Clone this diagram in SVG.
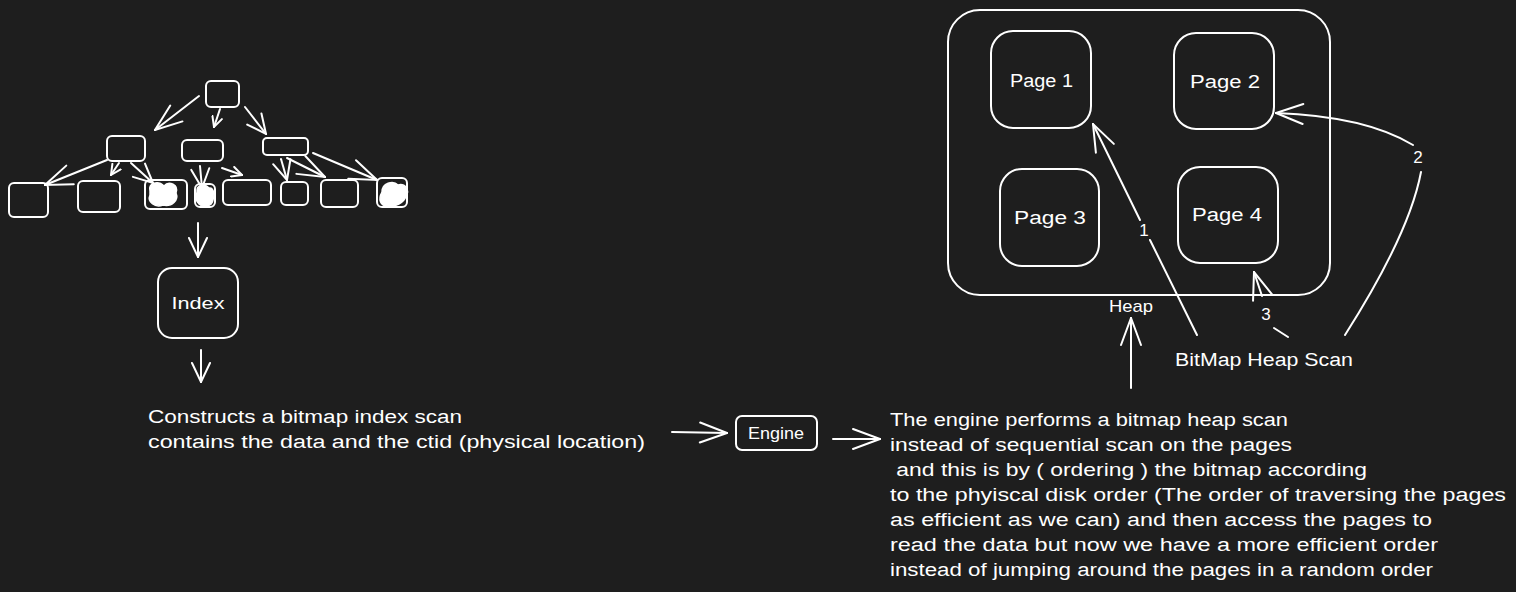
<svg xmlns="http://www.w3.org/2000/svg" width="1516" height="592" viewBox="0 0 1516 592">
<defs>
<style>
.bg{fill:#1e1e1e}
.box{fill:none;stroke:#ffffff;stroke-width:2;stroke-linejoin:round}
.ln{fill:none;stroke:#ffffff;stroke-width:2;stroke-linecap:round;stroke-linejoin:round}
.blob{fill:#ffffff;stroke:#ffffff;stroke-width:1.5}
.t{font-family:"Liberation Sans","Open Sans",sans-serif;fill:#ffffff;font-size:18px;white-space:pre}
.tm{font-family:"Liberation Sans","Open Sans",sans-serif;fill:#ffffff;font-size:17px;text-anchor:middle}
</style>
<marker id="aS" viewBox="0 0 12 12" refX="11" refY="6" markerWidth="12" markerHeight="12" markerUnits="userSpaceOnUse" orient="auto">
<path d="M1,1 L11,6 L1,11" fill="none" stroke="#ffffff" stroke-width="2" stroke-linecap="round"/>
</marker>
<marker id="aM" viewBox="0 0 22 22" refX="21" refY="11" markerWidth="22" markerHeight="22" markerUnits="userSpaceOnUse" orient="auto">
<path d="M2,2 L21,11 L2,20" fill="none" stroke="#ffffff" stroke-width="2" stroke-linecap="round"/>
</marker>
<marker id="aL" viewBox="0 0 30 24" refX="29" refY="12" markerWidth="30" markerHeight="24" markerUnits="userSpaceOnUse" orient="auto">
<path d="M2,2 L29,12 L2,22" fill="none" stroke="#ffffff" stroke-width="2" stroke-linecap="round"/>
</marker>
</defs>
<rect class="bg" x="0" y="0" width="1516" height="592"/>

<g id="tree">
<rect class="box" x="206" y="81" width="33" height="26" rx="5"/>
<rect class="box" x="107" y="136" width="38" height="25" rx="5"/>
<rect class="box" x="182" y="140" width="41" height="21" rx="5"/>
<rect class="box" x="263" y="138" width="45" height="17" rx="4"/>
<rect class="box" x="9" y="183" width="39" height="34" rx="5"/>
<rect class="box" x="78" y="181" width="42" height="31" rx="5"/>
<rect class="box" x="145" y="180" width="42" height="29" rx="5"/>
<path class="blob" d="M150,191 C148,183 158,180 164,186 C169,180 179,185 176,193 C179,200 172,207 163,205 C155,208 147,202 150,195 Z"/>
<rect class="box" x="195" y="184" width="20" height="23" rx="5"/>
<path class="blob" d="M197,192 C196,185 205,183 209,188 C214,187 215,196 213,200 C212,207 203,208 199,204 C195,201 196,196 197,192 Z"/>
<rect class="box" x="223" y="180" width="48" height="25" rx="5"/>
<rect class="box" x="281" y="182" width="27" height="23" rx="5"/>
<rect class="box" x="321" y="180" width="37" height="27" rx="5"/>
<rect class="box" x="377" y="178" width="30" height="29" rx="5"/>
<path class="blob" d="M382,192 C382,183 393,180 398,185 C405,183 410,190 406,196 C404,203 395,207 388,206 C380,206 378,199 382,192 Z"/>
</g>

<g id="index">
<rect class="box" x="158" y="268" width="80" height="70" rx="14"/>
<text class="tm" x="198" y="309" textLength="53" lengthAdjust="spacingAndGlyphs">Index</text>
</g>

<g id="engine">
<rect class="box" x="736" y="416" width="81" height="34" rx="6"/>
<text class="tm" x="776" y="439" textLength="56" lengthAdjust="spacingAndGlyphs">Engine</text>
</g>

<g id="heap">
<rect class="box" x="948" y="10" width="382" height="285" rx="32"/>
<text class="tm" x="1131" y="312" textLength="44" lengthAdjust="spacingAndGlyphs">Heap</text>
</g>
<g id="page1">
<rect class="box" x="991" y="31" width="100" height="97" rx="22"/>
<text class="t" x="1010" y="87" textLength="63" lengthAdjust="spacingAndGlyphs">Page 1</text>
</g>
<g id="page2">
<rect class="box" x="1174" y="33" width="100" height="96" rx="22"/>
<text class="t" x="1190" y="88" textLength="70" lengthAdjust="spacingAndGlyphs">Page 2</text>
</g>
<g id="page3">
<rect class="box" x="1000" y="169" width="99" height="97" rx="22"/>
<text class="t" x="1014" y="224" textLength="72" lengthAdjust="spacingAndGlyphs">Page 3</text>
</g>
<g id="page4">
<rect class="box" x="1178" y="167" width="100" height="96" rx="22"/>
<text class="t" x="1192" y="221" textLength="70" lengthAdjust="spacingAndGlyphs">Page 4</text>
</g>

<g id="texts">
<text class="t" x="148" y="423" textLength="314" lengthAdjust="spacingAndGlyphs">Constructs a bitmap index scan</text>
<text class="t" x="148" y="448" textLength="497" lengthAdjust="spacingAndGlyphs">contains the data and the ctid (physical location)</text>
<text class="t" x="890" y="426" textLength="398" lengthAdjust="spacingAndGlyphs">The engine performs a bitmap heap scan</text>
<text class="t" x="890" y="451" textLength="402" lengthAdjust="spacingAndGlyphs">instead of sequential scan on the pages</text>
<text class="t" x="890" y="476" textLength="477" lengthAdjust="spacingAndGlyphs"> and this is by ( ordering ) the bitmap according</text>
<text class="t" x="890" y="501" textLength="616" lengthAdjust="spacingAndGlyphs">to the phyiscal disk order (The order of traversing the pages</text>
<text class="t" x="890" y="526" textLength="542" lengthAdjust="spacingAndGlyphs">as efficient as we can) and then access the pages to</text>
<text class="t" x="890" y="551" textLength="548" lengthAdjust="spacingAndGlyphs">read the data but now we have a more efficient order</text>
<text class="t" x="890" y="576" textLength="543" lengthAdjust="spacingAndGlyphs">instead of jumping around the pages in a random order</text>
<text class="t" x="1175" y="366" textLength="178" lengthAdjust="spacingAndGlyphs">BitMap Heap Scan</text>
</g>

<g id="connectors">
<path class="ln" d="M199,96 L155,130" marker-end="url(#aL)"/>
<path class="ln" d="M220,109 L214,127" marker-end="url(#aS)"/>
<path class="ln" d="M245,107 L266,134" marker-end="url(#aM)"/>
<path class="ln" d="M107,160 L45,185" marker-end="url(#aL)"/>
<path class="ln" d="M119,163 L111,175" marker-end="url(#aS)"/>
<path class="ln" d="M131,163 L153,183" marker-end="url(#aM)"/>
<path class="ln" d="M200,166 L202,188" marker-end="url(#aM)"/>
<path class="ln" d="M222,168 L242,175" marker-end="url(#aS)"/>
<path class="ln" d="M281,159 L287,180" marker-end="url(#aM)"/>
<path class="ln" d="M287,158 L325,177" marker-end="url(#aL)"/>
<path class="ln" d="M313,153 L377,180" marker-end="url(#aL)"/>
<path class="ln" d="M198,223 L198,257" marker-end="url(#aM)"/>
<path class="ln" d="M201,350 L201,382" marker-end="url(#aM)"/>
<path class="ln" d="M672,432 L727,433" marker-end="url(#aL)"/>
<path class="ln" d="M833,439 L880,439" marker-end="url(#aL)"/>
<path class="ln" d="M1131,388 L1131,318" marker-end="url(#aL)"/>
<path class="ln" d="M1197,335 L1150,240"/>
<path class="ln" d="M1140,220 L1093,124" marker-end="url(#aL)"/>
<text class="tm" x="1144" y="236">1</text>
<path class="ln" d="M1345,335 C1380,280 1412,220 1421,172"/>
<path class="ln" d="M1413,145 C1380,125 1330,115 1276,113" marker-end="url(#aL)"/>
<text class="tm" x="1418" y="163">2</text>
<path class="ln" d="M1288,337 L1274,328"/>
<text class="tm" x="1266" y="320">3</text>
<path class="ln" d="M1262,296 L1254,272" marker-end="url(#aL)"/>
</g>
</svg>
